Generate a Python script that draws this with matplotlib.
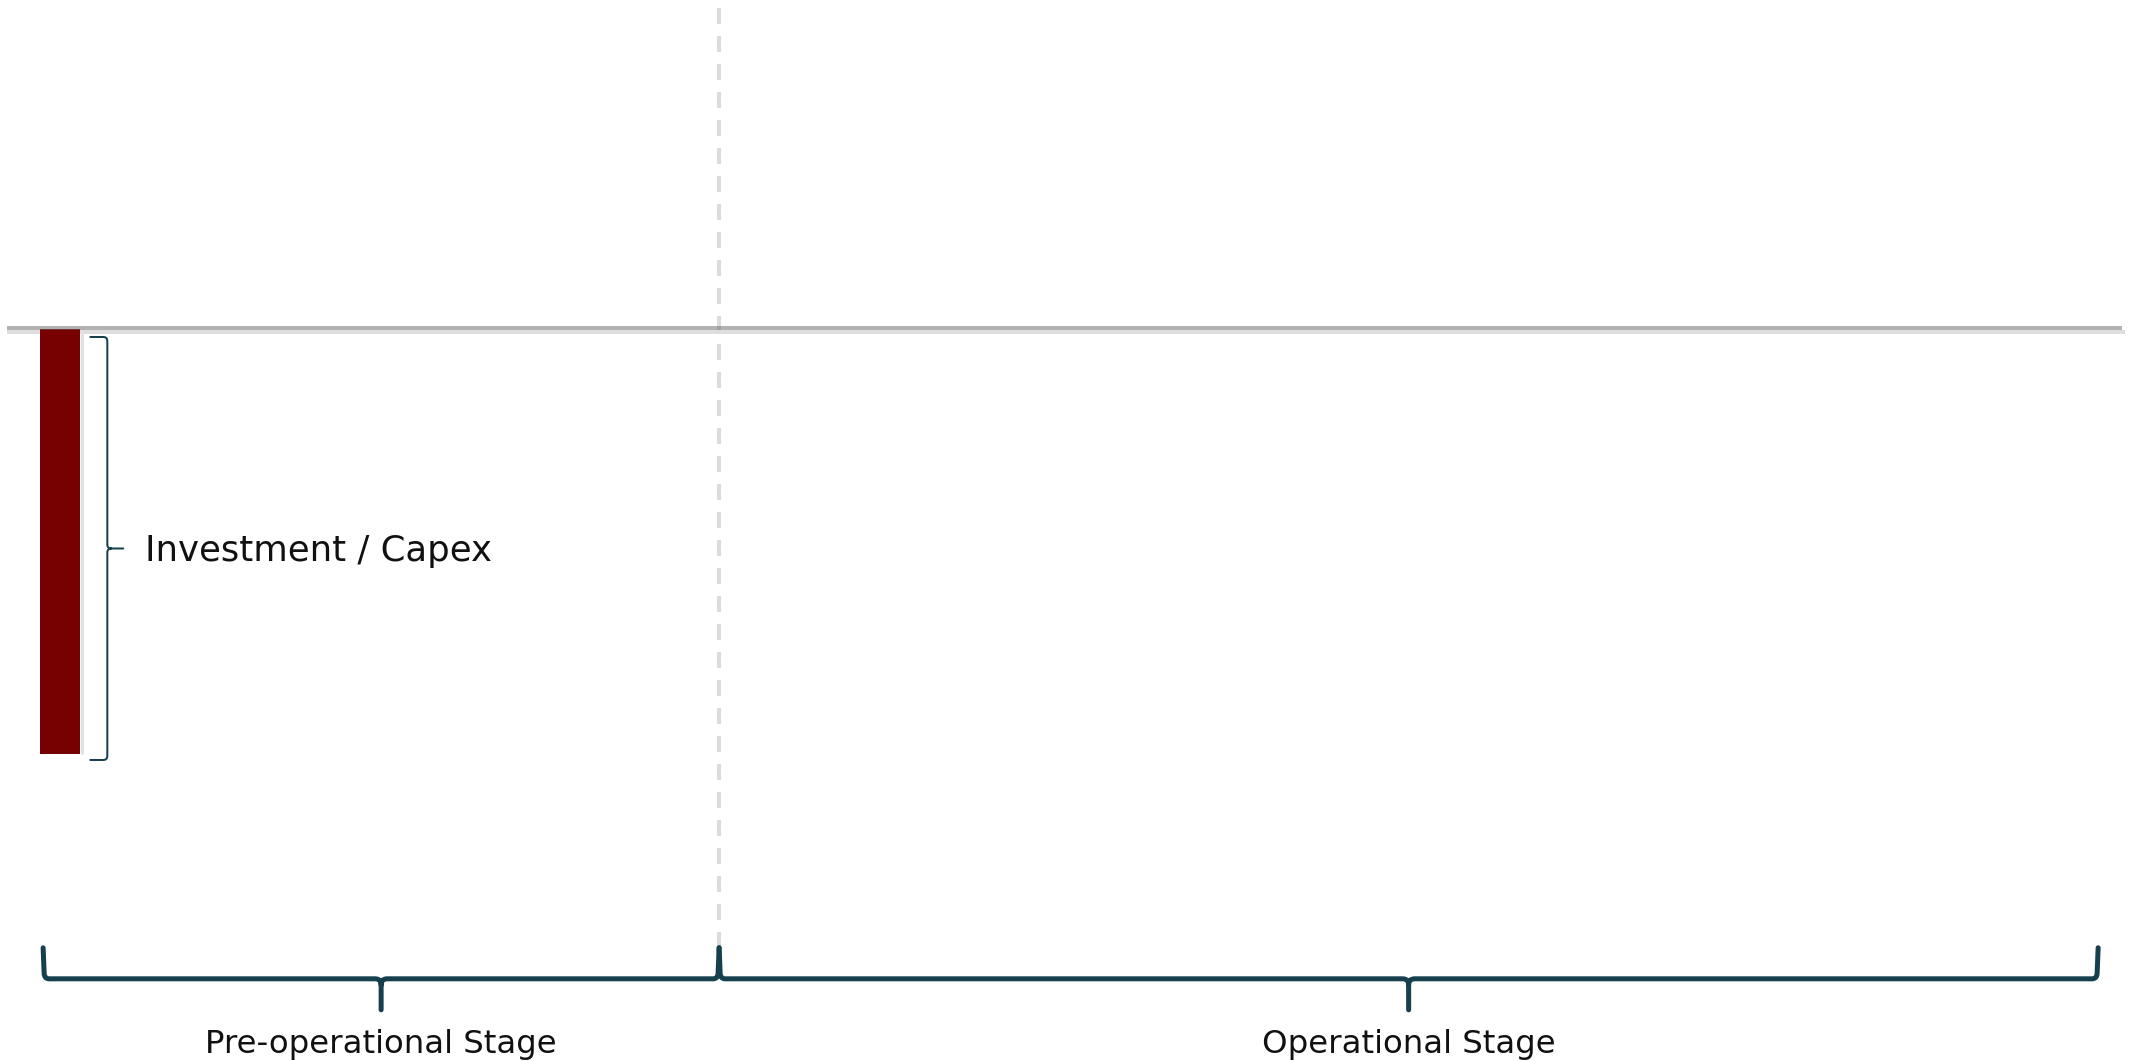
import matplotlib
matplotlib.use("Agg")
import matplotlib.pyplot as plt
from matplotlib.path import Path
from matplotlib.patches import PathPatch

# ---- data -------------------------------------------------------------
periods = [0]                 # project period of the capital outlay
cash_flows = [-100]           # normalised cash flow (investment = -100)
bar_label = "Investment / Capex"
stage_labels = ["Pre-operational Stage", "Operational Stage"]
stage_edges = [-0.25, 9.75, 30.15]   # stage boundaries on the period axis

# ---- styling ----------------------------------------------------------
W_PX, H_PX, DPI = 2131, 1061, 100
XLIM = (-0.888, 30.636)
YLIM = (-172.24, 77.41)
BAR_COLOR = "#770000"
BRACE_COLOR = "#16404e"
FONT = ["DejaVu Sans"]

fig = plt.figure(figsize=(W_PX / DPI, H_PX / DPI), dpi=DPI)
ax = fig.add_axes([0, 0, 1, 1])
ax.set_xlim(*XLIM)
ax.set_ylim(*YLIM)
ax.axis("off")

# data units per pixel (for sizing curls and offsets)
px_x = (XLIM[1] - XLIM[0]) / W_PX
px_y = (YLIM[1] - YLIM[0]) / H_PX
pt = 72 / DPI  # points per pixel

# ---- zero line (light band under bar, darker translucent line on top) --
ax.hlines(-3 * px_y, XLIM[0] + 7 * px_x, XLIM[1] - 6 * px_x,
          color="#dedede", lw=4 * pt, zorder=1)
ax.hlines(1 * px_y, XLIM[0] + 7 * px_x, XLIM[1] - 9 * px_x,
          color="#666666", alpha=0.5, lw=4 * pt, zorder=4)

# ---- bar ---------------------------------------------------------------
bars = ax.bar(periods, cash_flows, width=0.6, color=BAR_COLOR,
              edgecolor="none", zorder=3)
for b in bars:
    # thin light edge on the right side of the bar
    ax.vlines(b.get_x() + b.get_width() + 1.5 * px_x, b.get_y() + b.get_height(),
              b.get_y(), color="#e2e2e2", lw=3 * pt, zorder=2)

# ---- stage divider -------------------------------------------------------
brace_top = -145.6
brace_line = -152.9
brace_tip = -160.2
ax.plot([stage_edges[1], stage_edges[1]], [YLIM[1], brace_top],
        color="#dcdcdc", lw=4 * pt, linestyle=(5, (4, 3)), zorder=1,
        solid_capstyle="butt")


def h_brace(x0, x1, y_top, y_line, y_tip, lw, color):
    """Horizontal curly brace opening upward with a tip pointing down."""
    rx, ry = 6 * px_x, 6 * px_y
    xm = (x0 + x1) / 2
    left = [(x0, y_top), (x0 + 1 * px_x, y_line + ry), (x0 + 1 * px_x, y_line),
            (x0 + rx, y_line),
            (xm - rx, y_line), (xm, y_line), (xm, y_line - ry), (xm, y_tip)]
    right = [(xm, y_line - ry), (xm, y_line), (xm + rx, y_line),
             (x1 - rx, y_line), (x1 - 1 * px_x, y_line),
             (x1 - 1 * px_x, y_line + ry), (x1, y_top)]
    codes_l = [Path.MOVETO, Path.LINETO, Path.CURVE3, Path.CURVE3,
               Path.LINETO, Path.CURVE3, Path.CURVE3, Path.LINETO]
    codes_r = [Path.MOVETO, Path.CURVE3, Path.CURVE3, Path.LINETO,
               Path.CURVE3, Path.CURVE3, Path.LINETO]
    path = Path(left + right, codes_l + codes_r)
    ax.add_patch(PathPatch(path, fill=False, edgecolor=color, lw=lw,
                           capstyle="round", joinstyle="round", zorder=5))


def v_brace(x_v, x_back, x_tip, y_t, y_b, lw, color):
    """Vertical curly brace with its tip pointing right."""
    rx, ry = 4 * px_x, 4 * px_y
    y_m = (y_t + y_b) / 2
    top = [(x_back, y_t), (x_v - rx, y_t), (x_v, y_t), (x_v, y_t - ry),
           (x_v, y_m + ry), (x_v, y_m), (x_v + rx, y_m), (x_tip, y_m)]
    bot = [(x_v + rx, y_m), (x_v, y_m), (x_v, y_m - ry),
           (x_v, y_b + ry), (x_v, y_b), (x_v - rx, y_b), (x_back, y_b)]
    codes_t = [Path.MOVETO, Path.LINETO, Path.CURVE3, Path.CURVE3,
               Path.LINETO, Path.CURVE3, Path.CURVE3, Path.LINETO]
    codes_b = [Path.MOVETO, Path.CURVE3, Path.CURVE3, Path.LINETO,
               Path.CURVE3, Path.CURVE3, Path.LINETO]
    ax.add_patch(PathPatch(Path(top + bot, codes_t + codes_b), fill=False,
                           edgecolor=color, lw=lw, capstyle="round",
                           joinstyle="round", zorder=5))
    return y_m


# ---- bracket + label for the investment bar -----------------------------
b = bars[0]
bar_right = b.get_x() + b.get_width()
x_v = bar_right + 27 * px_x
y_mid = v_brace(x_v, bar_right + 10 * px_x, x_v + 16 * px_x,
                -8 * px_y, cash_flows[0] - 6 * px_y, 2 * pt, BRACE_COLOR)
ax.text(x_v + 38 * px_x, y_mid - 13 * px_y, bar_label, ha="left",
        va="baseline", fontsize=25.6, family=FONT, color="#111111")

# ---- stage braces and labels ---------------------------------------------
for lab, x0, x1 in zip(stage_labels, stage_edges[:-1], stage_edges[1:]):
    h_brace(x0, x1, brace_top, brace_line, brace_tip, 5 * pt, BRACE_COLOR)
    ax.text((x0 + x1) / 2, -170.4, lab, ha="center", va="baseline",
            fontsize=23.3, family=FONT, color="#111111")

fig.savefig("out.png", dpi=DPI)
